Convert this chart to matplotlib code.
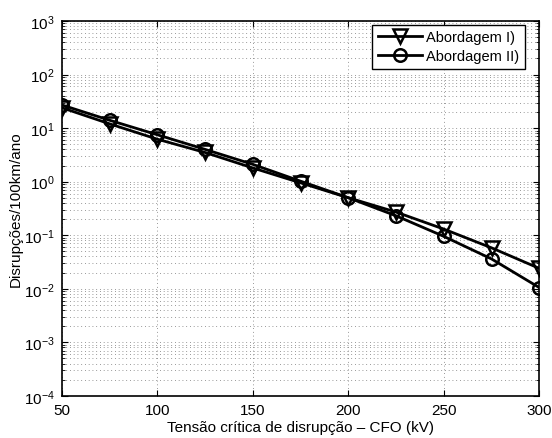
import numpy as np
import matplotlib.pyplot as plt
from matplotlib.ticker import LogLocator, NullFormatter

plt.rcParams['font.family'] = ['Liberation Sans', 'DejaVu Sans']

# dados
cfo = [50, 75, 100, 125, 150, 175, 200, 225, 250, 275, 300]
abord_1 = [24, 12, 6.2, 3.5, 1.8, 0.95, 0.5, 0.27, 0.13, 0.058, 0.024]
abord_2 = [27, 14, 7.5, 4.0, 2.1, 1.02, 0.5, 0.23, 0.095, 0.036, 0.0105]

fig = plt.figure(figsize=(5.52, 4.39), dpi=100)
ax = fig.add_axes([0.112, 0.096, 0.865, 0.854])

ax.semilogy(cfo, abord_1, color='black', linewidth=2, marker='v', markersize=10,
            markerfacecolor='none', markeredgewidth=1.8, label='Abordagem I)')
ax.semilogy(cfo, abord_2, color='black', linewidth=2, marker='o', markersize=9,
            markerfacecolor='none', markeredgewidth=1.8, label='Abordagem II)')

ax.set_xlim(50, 300)
ax.set_ylim(1e-4, 1e3)
ax.set_xticks([50, 100, 150, 200, 250, 300])
ax.yaxis.set_major_locator(LogLocator(base=10, numticks=20))
ax.yaxis.set_minor_locator(LogLocator(base=10, subs=np.arange(2, 10), numticks=20))
ax.yaxis.set_minor_formatter(NullFormatter())

ax.tick_params(which='both', direction='in', top=True, right=True, labelsize=11)
ax.tick_params(which='major', length=4, width=0.8, pad=5)
ax.tick_params(which='minor', length=2, width=0.6)

dots = (0, (1, 3.5))
ax.grid(True, which='major', axis='both', linestyle=dots, color='#777777', linewidth=0.6)
ax.grid(True, which='minor', axis='y', linestyle=dots, color='#777777', linewidth=0.6)

for s in ax.spines.values():
    s.set_linewidth(1.2)

ax.set_xlabel('Tensão crítica de disrupção – CFO (kV)', fontsize=11, labelpad=2)
ax.set_ylabel('Disrupções/100km/ano', fontsize=11, labelpad=1)

leg = ax.legend(loc='upper right', fontsize=10.5, fancybox=False, framealpha=1,
                edgecolor='black', handlelength=3.0, borderpad=0.4, labelspacing=0.3,
                handletextpad=0.3, borderaxespad=0.25, bbox_to_anchor=(0.978, 1.0))
leg.get_frame().set_linewidth(1.0)

fig.savefig('out.png', dpi=100)
